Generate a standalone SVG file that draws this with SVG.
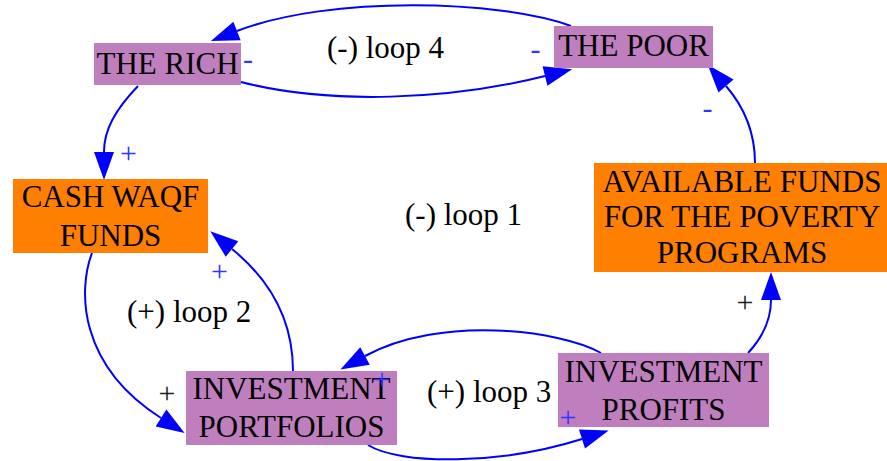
<svg xmlns="http://www.w3.org/2000/svg" width="887" height="461" viewBox="0 0 887 461">
<style>
.t{font-family:"Liberation Serif","Times New Roman",serif;font-size:31px;fill:#000;text-anchor:middle}
.lp{font-family:"Liberation Serif","Times New Roman",serif;font-size:31px;fill:#000}
.sg{font-family:"Liberation Serif","Times New Roman",serif;font-size:30px;text-anchor:middle}
.b{fill:#3333ff}
.k{fill:#222}
.pur{fill:#bf7fbf}
.org{fill:#ff7f00}
.e{fill:none;stroke:#0000ff;stroke-width:2;marker-end:url(#ah)}
</style>
<defs>
<marker id="ah" markerUnits="userSpaceOnUse" markerWidth="30" markerHeight="22" refX="0" refY="0" viewBox="0 -11 30 22" orient="auto" overflow="visible">
<path d="M0,-10 L28,0 L0,10 z" fill="#0000ff"/>
</marker>
</defs>
<g id="connectors">
<path class="e" d="M571,26 C500,0 330,-5 237,31"/>
<path class="e" d="M241,82 C330,105 450,100 545,76"/>
<path class="e" d="M138,86 C115,110 104,130 104,152"/>
<path class="e" d="M92,253 C78,290 78,365 161,418"/>
<path class="e" d="M293,371 C293,320 270,280 232,249"/>
<path class="e" d="M601,353 C560,330 440,315 365,356"/>
<path class="e" d="M368,445 C400,465 500,465 582,439"/>
<path class="e" d="M748,353 C762,338 771,320 771,300"/>
<path class="e" d="M755,163 C755,135 745,108 726,86"/>
</g>
<g id="the-rich"><rect class="pur" x="94" y="43" width="147" height="42"/><text class="t" x="167.5" y="74">THE RICH</text></g>
<g id="the-poor"><rect class="pur" x="554" y="26" width="159" height="42"/><text class="t" x="633.5" y="56">THE POOR</text></g>
<g id="cash-waqf-funds"><rect class="org" x="13" y="179" width="195" height="74"/><text class="t" x="110.5" y="207">CASH WAQF</text><text class="t" x="110.5" y="246">FUNDS</text></g>
<g id="available-funds"><rect class="org" x="594" y="163" width="293" height="109"/><text class="t" x="742" y="192">AVAILABLE FUNDS</text><text class="t" x="742" y="227">FOR THE POVERTY</text><text class="t" x="742" y="263">PROGRAMS</text></g>
<g id="investment-portfolios"><rect class="pur" x="186" y="371" width="211" height="74"/><text class="t" x="291.5" y="399">INVESTMENT</text><text class="t" x="291.5" y="437">PORTFOLIOS</text></g>
<g id="investment-profits"><rect class="pur" x="558" y="353" width="211" height="74"/><text class="t" x="663.5" y="382">INVESTMENT</text><text class="t" x="663.5" y="420">PROFITS</text></g>
<g id="loop-labels">
<text class="lp" x="327" y="58">(-) loop 4</text>
<text class="lp" x="405" y="225">(-) loop 1</text>
<text class="lp" x="127" y="322">(+) loop 2</text>
<text class="lp" x="427" y="402">(+) loop 3</text>
</g>
<g id="signs">
<text class="sg b" x="128.5" y="162.5">+</text>
<text class="sg b" x="219.5" y="280.5">+</text>
<text class="sg k" x="167" y="402.5">+</text>
<text class="sg b" x="382" y="389">+</text>
<text class="sg b" x="568" y="426.5">+</text>
<text class="sg k" x="745" y="311.5">+</text>
<text class="sg b" x="248" y="69">-</text>
<text class="sg b" x="535.5" y="59">-</text>
<text class="sg b" x="707.5" y="118">-</text>
</g>
</svg>
